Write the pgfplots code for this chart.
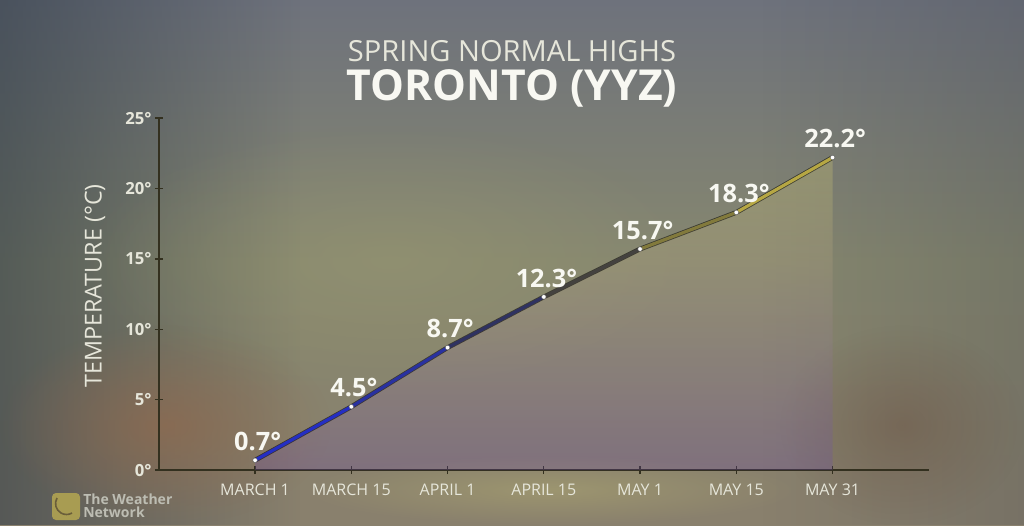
\documentclass[border=0pt]{standalone}
\usepackage{fontspec}
\setmainfont{Open Sans}
\usepackage{pgfplots}
\pgfplotsset{compat=1.18}
\usetikzlibrary{fadings}

% palette
\definecolor{skyTop}{HTML}{5E6470}
\definecolor{skyUp}{HTML}{6E727C}
\definecolor{skyMid}{HTML}{86876F}
\definecolor{skyLow}{HTML}{8A7E6C}
\definecolor{skyBot}{HTML}{927E60}
\definecolor{edgeDark}{HTML}{2C3844}
\definecolor{edgeRight}{HTML}{3A3F4A}
\definecolor{glowMid}{HTML}{9C9A72}
\definecolor{warmLeft}{HTML}{94694C}
\definecolor{warmRight}{HTML}{6E5646}
\definecolor{glowBot}{HTML}{B0AA72}
\definecolor{axisDark}{HTML}{33301F}
\definecolor{labelCol}{HTML}{E6E6DA}
\definecolor{valueCol}{HTML}{F8F8F2}
\definecolor{logoFill}{HTML}{A89C52}
\definecolor{logoSwirl}{HTML}{6A5E3A}
\definecolor{logoText}{HTML}{BDBDB3}
\definecolor{areaTop}{HTML}{D8D070}
\definecolor{areaBot}{HTML}{6A48A8}

\pgfdeclareverticalshading{sky}{100bp}{%
  color(0bp)=(skyBot); color(20bp)=(skyLow); color(50bp)=(skyMid);
  color(75bp)=(skyUp); color(100bp)=(skyTop)}

\tikzfading[name=toRight, left color=transparent!0, right color=transparent!100]
\tikzfading[name=toLeft, left color=transparent!100, right color=transparent!0]
\tikzfading[name=softBlob, inner color=transparent!0, outer color=transparent!100]

% spring normal highs, Toronto (deg C)
\pgfplotstableread{
idx temp
0   0.7
1   4.5
2   8.7
3   12.3
4   15.7
5   18.3
6   22.2
}\normals

\begin{document}
\begin{tikzpicture}[x=0.75pt, y=0.75pt]

% sky backdrop
\begin{scope}
\clip (0,0) rectangle (1024,525);
\shade[shading=sky] (0,0) rectangle (1024,525);
\fill[edgeDark, opacity=0.55, path fading=toRight] (0,0) rectangle (300,525);
\fill[edgeRight, opacity=0.22, path fading=toLeft] (760,0) rectangle (1024,525);
\fill[glowMid, opacity=0.45, path fading=softBlob] (80,130) rectangle (700,400);
\fill[warmLeft, opacity=0.65, path fading=softBlob] (0,0) rectangle (330,200);
\fill[warmRight, opacity=0.50, path fading=softBlob] (780,0) rectangle (1024,200);
\fill[glowBot, opacity=0.50, path fading=softBlob] (300,0) rectangle (800,70);
\end{scope}

% titles
\node[text=labelCol, font=\fontsize{21.8}{24}\selectfont] at (512,474) {SPRING NORMAL HIGHS};
\node[text=valueCol, font=\bfseries\fontsize{32}{35}\selectfont] at (512,437) {TORONTO (YYZ)};

% vertical axis title
\node[rotate=90, text=labelCol, font=\fontsize{17.5}{19}\selectfont] at (95,239) {TEMPERATURE (°C)};

% station logo
\fill[logoFill, rounded corners=3pt] (52,5) rectangle (80,32);
\draw[logoSwirl, line width=1.2pt] (57,27) arc (150:300:11);
\node[anchor=north west, align=left, inner sep=0pt, text=logoText, font=\bfseries\fontsize{10.5}{9.5}\selectfont] at (83,31) {The Weather\\Network};

\begin{axis}[
  at={(265,39)}, anchor=origin,
  scale only axis, width=577.5pt, height=264pt,
  xmin=-1, xmax=7, ymin=0, ymax=25,
  axis lines=left,
  axis line style={-, draw=axisDark, line width=1.2pt},
  tick style={draw=axisDark, line width=1pt},
  tick align=center, major tick length=6pt,
  xtick={0,...,6},
  xticklabels={MARCH 1, MARCH 15, APRIL 1, APRIL 15, MAY 1, MAY 15, MAY 31},
  ytick={0,5,...,25},
  yticklabels={0°,5°,10°,15°,20°,25°},
  x tick label style={text=labelCol, font=\fontsize{12}{14}\selectfont, yshift=-4pt},
  y tick label style={text=labelCol, font=\bfseries\fontsize{12.5}{14}\selectfont, xshift=1pt},
  /pgf/number format/assume math mode=true,
  colormap={warmup}{rgb255=(34,44,205) rgb255=(40,50,180) rgb255=(45,48,100) rgb255=(70,68,60) rgb255=(150,140,60) rgb255=(205,186,72)},
  point meta min=0, point meta max=6,
  clip=false,
]
% translucent area under the curve
\addplot[draw=none, top color=areaTop, bottom color=areaBot, fill opacity=0.28]
  table[x=idx, y=temp] {\normals} \closedcycle;
% dark casing of the line
\addplot[draw=black, draw opacity=0.55, line width=3.6pt, line join=round, line cap=round]
  table[x=idx, y=temp] {\normals};
% colour-graded line
\addplot[mesh, shader=flat mean, point meta=x, line width=2.4pt, line join=round, line cap=round]
  table[x=idx, y=temp] {\normals};
% points and value labels
\addplot[only marks, mark=*, mark size=1.7pt,
  mark options={fill=white, draw=black!60, line width=0.3pt},
  point meta=y,
  nodes near coords={\pgfmathprintnumber[fixed, precision=1, fixed zerofill]{\pgfplotspointmeta}°},
  every node near coord/.append style={text=valueCol, font=\bfseries\fontsize{19}{22}\selectfont, anchor=south, inner sep=0pt, yshift=7pt, xshift=2pt}]
  table[x=idx, y=temp] {\normals};
\end{axis}

\pgfresetboundingbox
\path[use as bounding box] (0,0) rectangle (1024,525);
\end{tikzpicture}
\end{document}
